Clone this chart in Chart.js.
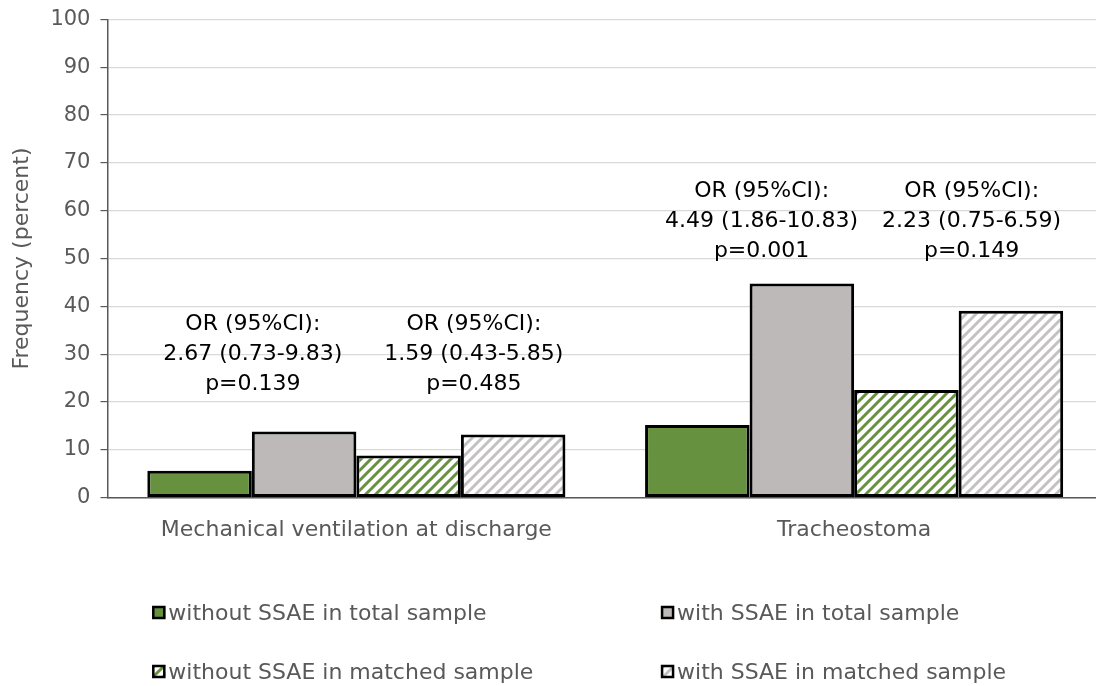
<!DOCTYPE html>
<html>
<head>
<meta charset="utf-8">
<script src="https://cdn.jsdelivr.net/npm/chart.js@4.4.1/dist/chart.umd.min.js"></script>
<style>
	html, body { margin: 0; padding: 0; background: #fff; overflow: hidden; }
	#wrap { width: 1103px; height: 686px; position: relative; }
</style>
</head>
<body>
<div id="wrap"><canvas id="chart"></canvas></div>
<script>
const categories = ['Mechanical ventilation at discharge', 'Tracheostoma'];
const seriesNames = [
	'without SSAE in total sample',
	'with SSAE in total sample',
	'without SSAE in matched sample',
	'with SSAE in matched sample'
];
const withoutTotal = [5.6, 15.2];
const withTotal = [13.8, 44.8];
const withoutMatched = [8.8, 22.5];
const withMatched = [13.2, 39.1];

// odds-ratio notes, one pair per category (total sample, matched sample)
const orTotal = [
	['OR (95%CI):', '2.67 (0.73-9.83)', 'p=0.139'],
	['OR (95%CI):', '4.49 (1.86-10.83)', 'p=0.001']
];
const orMatched = [
	['OR (95%CI):', '1.59 (0.43-5.85)', 'p=0.485'],
	['OR (95%CI):', '2.23 (0.75-6.59)', 'p=0.149']
];
// value on the y axis where the last note line sits
const noteLevel = [23.8, 51.6];

const green = '#66923f';
const grey = '#bdb9b9';
const font = 'DejaVu Sans, sans-serif';
const groupShare = 0.84;

const hatch = color => {
	const c = document.createElement('canvas');
	c.width = 10; c.height = 10;
	const g = c.getContext('2d');
	g.fillStyle = '#fff';
	g.fillRect(0, 0, 10, 10);
	g.strokeStyle = color;
	g.lineWidth = 3;
	g.beginPath();
	g.moveTo(-5, 5); g.lineTo(5, -5);
	g.moveTo(0, 10); g.lineTo(10, 0);
	g.moveTo(5, 15); g.lineTo(15, 5);
	g.stroke();
	return g.createPattern(c, 'repeat');
};

const fills = [green, grey, hatch(green), hatch('#c3c1c1')];
const values = [withoutTotal, withTotal, withoutMatched, withMatched];

const notesPlugin = {
	id: 'notes',
	afterDatasetsDraw(chart) {
		const {ctx, scales: {y}} = chart;
		const bars = [0, 1, 2, 3].map(i => chart.getDatasetMeta(i).data);
		ctx.save();
		ctx.font = `22px ${font}`;
		ctx.fillStyle = '#000';
		ctx.textAlign = 'center';
		ctx.textBaseline = 'middle';
		categories.forEach((cat, i) => {
			const base = y.getPixelForValue(noteLevel[i]);
			const pairs = [
				[orTotal[i], (bars[0][i].x + bars[1][i].x) / 2 + (i ? 12 : 1)],
				[orMatched[i], (bars[2][i].x + bars[3][i].x) / 2 + 13]
			];
			pairs.forEach(([lines, x]) => {
				lines.forEach((t, k) => ctx.fillText(t, x, base - (2 - k) * 30));
			});
		});
		ctx.restore();
	}
};

const legendPlugin = {
	id: 'gridLegend',
	afterDraw(chart) {
		const {ctx, scales: {x}} = chart;
		const half = (x.getPixelForValue(1) - x.getPixelForValue(0)) * groupShare / 2;
		const cols = [x.getPixelForValue(0) - half + 5, x.getPixelForValue(1) - half + 16];
		const rows = [chart.height - 73, chart.height - 14];
		ctx.save();
		ctx.font = `22px ${font}`;
		ctx.textBaseline = 'middle';
		seriesNames.forEach((name, i) => {
			const bx = cols[i % 2], by = rows[Math.floor(i / 2)];
			ctx.fillStyle = fills[i];
			ctx.fillRect(bx, by - 7, 13, 13);
			ctx.strokeStyle = '#000';
			ctx.lineWidth = 2.5;
			ctx.strokeRect(bx + 1, by - 6, 11, 11);
			ctx.fillStyle = '#595959';
			ctx.fillText(name, bx + 16, by + 1);
		});
		ctx.restore();
	}
};

new Chart(document.getElementById('chart'), {
	type: 'bar',
	data: {
		labels: categories,
		datasets: seriesNames.map((name, i) => ({
			label: name,
			data: values[i],
			backgroundColor: fills[i],
			borderColor: '#000',
			borderWidth: 3,
			borderSkipped: false,
			categoryPercentage: groupShare,
			barPercentage: 1
		}))
	},
	options: {
		responsive: true,
		maintainAspectRatio: false,
		animation: false,
		layout: { padding: { top: 0, right: 0, bottom: 132, left: 9 } },
		plugins: {
			legend: { display: false },
			tooltip: { enabled: false }
		},
		scales: {
			x: {
				grid: { display: false },
				border: { color: '#595959', width: 1.5 },
				ticks: { color: '#595959', padding: 11, font: { family: font, size: 22 } }
			},
			y: {
				min: 0,
				max: 100,
				ticks: { stepSize: 10, color: '#595959', padding: 10, font: { family: font, size: 21, lineHeight: 0.9 } },
				grid: { color: '#d9d9d9', lineWidth: 1.2, tickColor: '#595959', tickLength: 7 },
				border: { color: '#595959', width: 1.5 },
				title: {
					display: true,
					text: 'Frequency (percent)',
					color: '#595959',
					padding: { top: 0, bottom: 5 },
					font: { family: font, size: 22 }
				}
			}
		}
	},
	plugins: [notesPlugin, legendPlugin]
});
</script>
</body>
</html>
